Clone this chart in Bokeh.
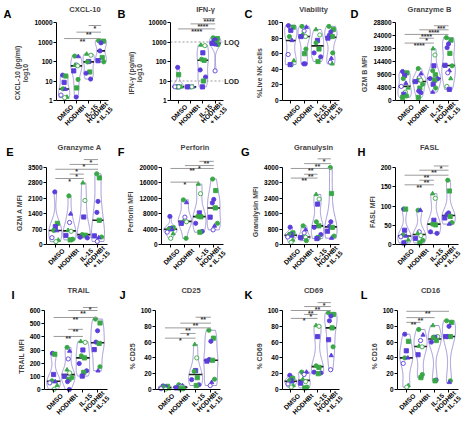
import numpy as np
from bokeh.plotting import figure
from bokeh.layouts import column, row
from bokeh.models import (FixedTicker, Range1d, ColumnDataSource, NumeralTickFormatter,
                          LinearAxis, LinearScale)
from bokeh.embed import file_html
from bokeh.resources import INLINE
from bokeh.core.properties import value

# ---------------- data ----------------
groups = ["DMSO", "HODHBt", "IL-15", "HODHBt\n+ IL-15"]

cxcl10 = [[20, 18, 8.5, 4.0, 3.8, 1.9, 1.5, 1.4],
          [190, 180, 66, 65, 60, 33, 12, 4.4, 1.5],
          [240, 210, 100, 96, 29, 25, 12.6],
          [1170, 1100, 900, 350, 160, 110, 96]]
cxcl10_sig = [(0, 3, "**", 1500), (1, 3, "**", 3200), (2, 3, "*", 7000)]

ifng = [[50, 21, 5, 5, 5, 5, 5, 5],
        [5, 5, 5, 5, 5, 5],
        [700, 650, 280, 130, 115, 37, 16, 10, 5],
        [1650, 1500, 1300, 1150, 870, 850, 730, 720, 33]]
ifng_sig = [(0, 3, "****", 4700), (1, 3, "****", 8500), (2, 3, "****", 16000)]
ifng_refs = [(1000, "LOQ"), (10, "LOD")]

viability = [[96, 94, 90, 82, 77, 59, 51, 46, 46],
             [95, 94, 89, 85, 82, 82, 66, 60, 47, 47],
             [91, 84, 77, 74, 66, 61, 56, 50],
             [95, 91, 88, 84, 82, 80, 61, 54, 49, 47]]
viability_sig = []

gzmb = [[10700, 10200, 9300, 8100, 6400, 5200, 4640, 3100, 2300, 1700, 1160],
        [11800, 9900, 8400, 7600, 7500, 7000, 6000, 4600, 3500, 2900, 1160],
        [19100, 16800, 12800, 11000, 9500, 8100, 8000, 7500, 6000, 4600, 3100],
        [23200, 22300, 20900, 19500, 17400, 13000, 12800, 11000, 10200, 8100, 5200, 4100]]
gzmb_sig = [(0, 2, "****", 21200), (1, 2, "*", 23000), (0, 3, "****", 24400),
            (1, 3, "****", 26100), (2, 3, "***", 27600)]

gzma = [[2390, 960, 810, 640, 630, 310, 200, 130],
        [2210, 1390, 1000, 640, 600, 410, 240, 210],
        [2800, 2000, 1250, 450, 420, 330, 300],
        [3215, 3030, 1960, 1460, 1100, 390, 340, 310, 140]]
gzma_sig = [(0, 2, "*", 3000), (1, 2, "*", 3200), (0, 3, "*", 3420),
            (1, 3, "*", 3640), (2, 3, "*", 3860)]

perforin = [[7300, 4300, 4100, 4000, 3900, 3200, 2800, 1600],
            [11600, 10900, 7100, 6000, 5900, 5500, 1600],
            [15700, 13200, 8200, 7300, 7200, 5500, 3400, 3200],
            [17000, 14000, 11700, 10800, 9500, 7100, 5500, 4800, 3800]]
perforin_sig = [(0, 2, "*", 16200), (0, 3, "**", 19750), (1, 3, "*", 20500), (2, 3, "**", 21600)]

granulysin = [[900, 600, 520, 520, 440, 390, 230, 115],
              [970, 770, 600, 390, 380, 360, 200],
              [2600, 2360, 2100, 1180, 970, 890, 520, 360, 310],
              [4000, 2650, 1180, 940, 890, 690, 440, 330]]
granulysin_sig = [(0, 2, "**", 3450), (1, 2, "**", 3650), (0, 3, "**", 3950),
                  (1, 3, "**", 4200), (2, 3, "*", 4450)]

fasl = [[92, 92, 37, 24.5, 22, 20, 12, 6, 4],
        [89, 89, 33, 29, 23, 16, 11, 4],
        [132, 120, 63, 53, 51, 33, 29],
        [167, 139, 82, 78, 73, 69, 57, 53]]
fasl_sig = [(0, 2, "**", 155), (1, 2, "**", 167), (0, 3, "**", 180),
            (1, 3, "**", 193), (2, 3, "*", 204)]

trail = [[275, 268, 114, 66, 59, 50, 31, 2],
         [320, 292, 232, 149, 126, 100, 90, 78, 60, 0],
         [365, 358, 300, 256, 240, 197, 142, 130, 102],
         [535, 505, 446, 360, 350, 303, 173, 142]]
trail_sig = [(0, 2, "**", 403), (1, 2, "**", 457), (0, 3, "**", 547),
             (1, 3, "**", 600), (2, 3, "*", 623)]

cd25 = [[4.5, 4, 3, 3, 2, 1, 1, 0.5],
        [6, 5, 4, 3, 3, 2, 1, 1],
        [57, 40, 24, 23, 15, 12.5, 6, 5],
        [75, 65, 61, 38, 37, 36, 13, 9, 5]]
cd25_sig = [(0, 2, "*", 65), (1, 2, "*", 71), (0, 3, "**", 78),
            (1, 3, "**", 84), (2, 3, "**", 91.5)]

cd69 = [[18, 14, 11, 11, 10, 7, 5, 3],
        [22, 22, 19, 13, 10, 8, 3, 2],
        [81, 80, 67, 30, 28, 22, 21, 20],
        [97, 95, 93, 87, 78, 63, 54, 43, 25]]
cd69_sig = [(0, 2, "*", 90), (1, 2, "*", 95), (0, 3, "**", 100),
            (1, 3, "**", 105), (2, 3, "*", 110)]

cd16 = [[70, 61, 49, 40, 40, 33, 5, 3],
        [76, 69, 62, 55, 54, 44, 19, 15],
        [81, 67, 66, 66, 62, 60, 12, 11],
        [87, 85, 80, 67, 67, 67, 11, 9]]
cd16_sig = [(0, 1, "**", 85), (0, 2, "**", 91), (0, 3, "**", 99)]

log_ticks = [1, 10, 100, 1000, 10000]
pct_ticks = [0, 20, 40, 60, 80, 100]
gzmb_ticks = [0, 4800, 9600, 14400, 19200, 24000, 28800]
gzma_ticks = [0, 700, 1400, 2100, 2800, 3500]
perforin_ticks = [0, 4000, 8000, 12000, 16000, 20000]
granulysin_ticks = [0, 800, 1600, 2400, 3200, 4000]
fasl_ticks = [0, 50, 100, 150, 200]
trail_ticks = [0, 100, 200, 300, 400, 500, 600]

# ---------------- style ----------------
FONT = "Liberation Sans"
PURPLE = "#5a3ddb"
GREEN = "#38a845"
OUTLINE = "#958bd0"
SIGC = "#9a9a9a"
HALF = 0.46
XL = 0.38          # frame / axis left
XA = 4.65          # x-axis line end
XRANGE = 5.02      # frame right (room for the last rotated label)
BB = 6
JIT = [-0.55, 0.55, 0.0, -0.3, 0.3, -0.7, 0.7, 0.15, -0.15, 0.45, -0.45, 0.25]
STYLE = [("circle", PURPLE, False), ("square", GREEN, False), ("square", PURPLE, False),
         ("circle", GREEN, False), ("triangle", PURPLE, False), ("circle", PURPLE, True),
         ("triangle", GREEN, False), ("circle", GREEN, True), ("square", PURPLE, False),
         ("circle", GREEN, False), ("square", GREEN, False), ("circle", PURPLE, False)]


def make_panel(spec, geo):
    H, T, ytop_px, y0_px = geo
    data = spec["data"]
    ticks = spec["ticks"]
    log = spec.get("log", False)
    frame_bot = H - BB
    if log:
        u0, u1 = np.log10(ticks[0]), np.log10(ticks[-1])
    else:
        u0, u1 = ticks[0], ticks[-1]
    s = (y0_px - ytop_px) / (u1 - u0)
    us = u0 - (frame_bot - y0_px) / s
    ue = u1 + (ytop_px - T) / s
    if log:
        yr = Range1d(10 ** us, 10 ** ue)
        ytype = "log"
    else:
        yr = Range1d(us, ue)
        ytype = "linear"
    xr_end = spec.get("xr_end", XRANGE)
    p = figure(width=spec["w"], height=H, x_range=Range1d(XL, xr_end), y_range=yr,
               y_axis_type=ytype, output_backend="svg", toolbar_location=None,
               min_border_left=spec["bl"], min_border_right=spec["br"],
               min_border_top=T, min_border_bottom=BB, title=spec["title"])
    p.title.align = "center"
    p.title.offset = spec.get("name_off", 0)
    p.title.standoff = 0
    p.title.text_font = FONT
    p.title.text_font_size = "7.5px"
    p.title.text_font_style = "bold"
    p.xgrid.visible = False
    p.ygrid.visible = False
    p.outline_line_color = None
    for ax in (p.xaxis[0], p.yaxis[0]):
        ax.axis_line_color = "black"
        ax.axis_line_width = 1
        ax.major_tick_line_color = "black"
        ax.major_tick_in = 0
        ax.major_tick_out = 3
        ax.minor_tick_line_color = None
        ax.major_label_text_font = FONT
        ax.major_label_text_font_size = "6.5px"
        ax.major_label_text_font_style = "bold"
        ax.major_label_text_color = "black"
        ax.major_label_standoff = 1
    p.xaxis.ticker = FixedTicker(ticks=[1, 2, 3, 4])
    p.xaxis.major_label_overrides = {1: "", 2: "", 3: "", 4: ""}
    p.xaxis.major_label_text_font_size = "0px"
    p.xaxis.major_label_standoff = 0
    p.xaxis.fixed_location = ticks[0]
    p.xaxis.bounds = (XL, XA)
    p.yaxis.ticker = FixedTicker(ticks=ticks)
    p.yaxis.bounds = (ticks[0], ticks[-1])
    p.yaxis.formatter = NumeralTickFormatter(format="0")
    p.yaxis.axis_label = spec["ylabel"]
    p.yaxis.axis_label_text_font = FONT
    p.yaxis.axis_label_text_font_size = "7px"
    p.yaxis.axis_label_text_font_style = "bold"
    p.yaxis.axis_label_standoff = 2

    # panel letter: an outer left axis with a single labelled tick at the frame top
    p.extra_y_ranges = {"letter": Range1d(0, 1)}
    p.extra_y_scales = {"letter": LinearScale()}
    lax = LinearAxis(y_range_name="letter", ticker=FixedTicker(ticks=[1]),
                     major_label_overrides={1: spec["letter"]},
                     axis_line_color=None, major_tick_line_color=None,
                     minor_tick_line_color=None, major_tick_out=0, major_tick_in=0,
                     major_label_standoff=0, major_label_text_font=FONT,
                     major_label_text_font_size="11px", major_label_text_font_style="bold",
                     major_label_text_color="black", major_label_text_baseline="bottom")
    p.add_layout(lax, "left")

    # category labels, rotated, ending just under each tick
    p.text(x=[1, 2, 3, 4], y=[ticks[0]] * 4, text=groups, angle=np.pi / 4,
           text_align="right", text_baseline="middle", x_offset=8, y_offset=5,
           text_font=value(FONT), text_font_size="6.6px", text_font_style="bold",
           text_line_height=1.0, text_color="black")

    for (yv, txt) in spec.get("refs", []):
        p.segment(x0=[XL], y0=[yv], x1=[XA], y1=[yv], line_color="#999999",
                  line_dash="2 2", line_width=1)
        p.text(x=[XA + 0.08], y=[yv], text=[txt], text_align="left", text_baseline="middle",
               text_font=value(FONT), text_font_size="7px", text_font_style="bold",
               text_color="#222222")

    for gi, vals in enumerate(data):
        c = gi + 1
        arr = np.array(vals, float)
        t = np.log10(arr) if log else arr
        tmin, tmax = t.min(), t.max()
        if tmax - tmin > 1e-9:
            sd = t.std(ddof=1)
            bw = 0.8 * sd * len(t) ** -0.2
            grid = np.linspace(tmin, tmax, 80)
            dens = np.exp(-0.5 * ((grid[:, None] - t[None, :]) / bw) ** 2).sum(1)
            hw = dens / dens.max() * HALF
        else:
            grid = np.array([tmin, tmin + 1e-12])
            hw = np.array([HALF, HALF])
        ys = 10 ** grid if log else grid
        xs_p = np.concatenate([c - hw, (c + hw)[::-1]])
        ys_p = np.concatenate([ys, ys[::-1]])
        p.patch(xs_p, ys_p, fill_color="white", fill_alpha=0.0,
                line_color=OUTLINE, line_width=0.9)
        med = float(np.median(arr))
        tm = np.log10(med) if log else med
        hm = float(np.interp(tm, grid, hw))
        p.segment(x0=[c - hm], y0=[med], x1=[c + hm], y1=[med],
                  line_color="#222222", line_width=1.6)
        order = sorted(vals, reverse=True)
        xs, yv, mk, fc, lc = [], [], [], [], []
        for kk, v in enumerate(order):
            tv = np.log10(v) if log else v
            hv = float(np.interp(tv, grid, hw))
            xs.append(c + JIT[kk % len(JIT)] * hv * 0.8)
            yv.append(v)
            m, col, hollow = STYLE[(kk + gi * 3) % len(STYLE)]
            mk.append(m)
            lc.append(col)
            fc.append("white" if hollow else col)
        src = ColumnDataSource(dict(x=xs, y=yv, m=mk, fc=fc, lc=lc))
        p.scatter("x", "y", marker="m", size=4.2, fill_color="fc", line_color="lc",
                  line_width=0.9, source=src)

    for (i, j, st, yv) in spec["sig"]:
        p.segment(x0=[i + 1], y0=[yv], x1=[j + 1], y1=[yv], line_color=SIGC, line_width=1)
        p.text(x=[(i + j) / 2 + 1], y=[yv], text=[st], text_align="center",
               text_baseline="alphabetic", y_offset=2.5, text_font=value(FONT),
               text_font_size="7px", text_font_style="bold", text_color="#333333")
    return p


row1 = [
    dict(letter="A", title="CXCL-10", ylabel="CXCL-10 (pg/ml)\nlog10", data=cxcl10,
         sig=cxcl10_sig, ticks=log_ticks, log=True, w=114, bl=52, br=1),
    dict(letter="B", title="IFN-\u03b3", ylabel="IFN-\u03b3 (pg/ml)\nlog10", data=ifng,
         sig=ifng_sig, ticks=log_ticks, log=True, w=127, bl=50, br=1, refs=ifng_refs,
         xr_end=6.05, name_off=-9),
    dict(letter="C", title="Viability", ylabel="%Live NK cells", data=viability,
         sig=viability_sig, ticks=pct_ticks, w=104, bl=40, br=1),
    dict(letter="D", title="Granzyme B", ylabel="GZM B  MFI", data=gzmb,
         sig=gzmb_sig, ticks=gzmb_ticks, w=119, bl=50, br=1),
]
row2 = [
    dict(letter="E", title="Granzyme A", ylabel="GZM A  MFI", data=gzma,
         sig=gzma_sig, ticks=gzma_ticks, w=114, bl=46, br=2),
    dict(letter="F", title="Perforin", ylabel="Perforin MFI", data=perforin,
         sig=perforin_sig, ticks=perforin_ticks, w=118, bl=46, br=4),
    dict(letter="G", title="Granulysin", ylabel="Granulysin MFI", data=granulysin,
         sig=granulysin_sig, ticks=granulysin_ticks, w=114, bl=50, br=2),
    dict(letter="H", title="FASL", ylabel="FASL MFI", data=fasl,
         sig=fasl_sig, ticks=fasl_ticks, w=118, bl=49, br=1),
]
row3 = [
    dict(letter="I", title="TRAIL", ylabel="TRAIL MFI", data=trail,
         sig=trail_sig, ticks=trail_ticks, w=114, bl=44, br=2),
    dict(letter="J", title="CD25", ylabel="% CD25", data=cd25,
         sig=cd25_sig, ticks=pct_ticks, w=118, bl=41, br=6),
    dict(letter="K", title="CD69", ylabel="% CD69", data=cd69,
         sig=cd69_sig, ticks=pct_ticks, w=114, bl=50, br=2),
    dict(letter="L", title="CD16", ylabel="% CD16", data=cd16,
         sig=cd16_sig, ticks=pct_ticks, w=118, bl=51, br=1),
]

# (height, top border, pixel of axis top, pixel of axis zero)
geo1 = (138, 13, 22, 100)
geo2 = (140, 13, 29, 106)
geo3 = (146, 16, 32, 111)

r1 = [make_panel(s, geo1) for s in row1]
r2 = [make_panel(s, geo2) for s in row2]
r3 = [make_panel(s, geo3) for s in row3]

layout = column(row(*r1), row(*r2), row(*r3))
open("out.html", "w").write(file_html(layout, INLINE))
